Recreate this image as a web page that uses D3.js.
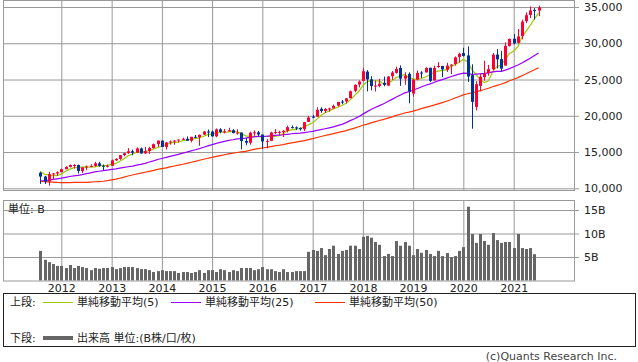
<!DOCTYPE html>
<html>
<head>
<meta charset="utf-8">
<script src="https://cdn.jsdelivr.net/npm/d3@7"></script>
<style>
  body { margin: 0; background: #fff; }
  svg { display: block; font-family: "DejaVu Sans", "Noto Sans CJK JP", sans-serif; }
</style>
</head>
<body>
<div id="chart"></div>
<script>
// monthly bars, Aug 2011 .. Jul 2021
const months = d3.timeMonth.range(new Date(2011, 7, 1), new Date(2021, 7, 1));

const open = [
  12143, 11613, 10912, 11955, 12046,
  12221, 12632, 12952, 13213, 13214, 12392, 12879, 13009, 13092, 13437, 13100, 13026,
  13104, 13861, 14054, 14580, 14840, 15116, 14910, 15500, 14810, 15130, 15546, 16086,
  16572, 15699, 16321, 16458, 16581, 16716, 16827, 16563, 17099, 17043, 17391, 17828,
  17823, 17169, 18134, 17776, 17841, 18011, 17638, 17690, 16528, 16278, 17664, 17720,
  17405, 16452, 16545, 17661, 17783, 17754, 17924, 18434, 18401, 18308, 18158, 19149,
  19873, 19872, 20957, 20665, 20962, 21030, 21392, 21961, 21982, 22423, 23442, 24305,
  24809, 26084, 25025, 24076, 24117, 24542, 24161, 25461, 25916, 26598, 25124, 25779,
  23058, 24999, 25961, 25980, 26618, 24871, 26788, 26865, 26355, 26929, 27150, 28109,
  28639, 28320, 25591, 21227, 24120, 25342, 25879, 26419, 28439, 27817, 26925, 29638,
  30627, 30055, 30985, 33054, 33904, 34584, 34507
];
const high = [
  12284, 11717, 12284, 12108, 12330,
  12721, 13055, 13289, 13338, 13280, 12898, 13146, 13331, 13653, 13662, 13290, 13270,
  13969, 14150, 14586, 14888, 15542, 15340, 15658, 15628, 15710, 15710, 16174, 16588,
  16588, 16398, 16589, 16631, 16736, 16978, 17152, 17099, 17350, 17395, 17895, 18103,
  17951, 18244, 18288, 18175, 18351, 18168, 18137, 17700, 16933, 17799, 17977, 17900,
  17405, 16795, 17790, 18168, 17934, 18017, 18623, 18668, 18534, 18399, 19153, 19987,
  20126, 21169, 21170, 21070, 21112, 21535, 21929, 22179, 22420, 23485, 24327, 24876,
  26617, 26306, 25450, 24858, 25087, 25403, 25462, 26167, 26769, 26951, 25991, 25981,
  25063, 26241, 26156, 26696, 26620, 26908, 27399, 26890, 27307, 27124, 28175, 28702,
  29374, 29568, 27102, 24764, 25759, 27581, 27020, 28655, 29199, 28955, 30116, 30637,
  31272, 31962, 33259, 34257, 35091, 34849, 35172
];
const low = [
  10604, 10597, 10362, 11231, 11735,
  12221, 12630, 12861, 12710, 12035, 12101, 12492, 12950, 12978, 12973, 12471, 12883,
  13104, 13784, 13937, 14399, 14747, 14551, 14900, 14760, 14760, 14720, 15497, 15703,
  15699, 15340, 16015, 16015, 16334, 16674, 16563, 16334, 16943, 15855, 17349, 17067,
  17136, 17038, 17579, 17574, 17841, 17576, 17399, 15370, 15942, 16013, 17250, 17128,
  15451, 15503, 16545, 17484, 17331, 17063, 17713, 18247, 18029, 17959, 17884, 19149,
  19677, 19832, 20412, 20380, 20554, 21017, 21279, 21600, 21709, 22416, 23242, 23921,
  24742, 23360, 23509, 23345, 23938, 24077, 24085, 24965, 25806, 24122, 24269, 21713,
  22639, 24884, 25209, 25975, 24680, 24871, 26586, 25339, 26046, 25743, 26922, 27325,
  28170, 24681, 18214, 20735, 23361, 24844, 25523, 26286, 26537, 26144, 26925, 29538,
  29857, 29953, 30547, 32783, 33474, 33271, 33742
];
const close = [
  11614, 10913, 11955, 12046, 12218,
  12633, 12952, 13212, 13214, 12393, 12880, 13009, 13091, 13437, 13096, 13026, 13104,
  13861, 14054, 14579, 14840, 15116, 14910, 15500, 14810, 15130, 15546, 16086, 16577,
  15699, 16322, 16458, 16581, 16717, 16827, 16563, 17098, 17043, 17391, 17828, 17823,
  17165, 18133, 17776, 17841, 18011, 17620, 17690, 16528, 16285, 17664, 17720, 17425,
  16466, 16517, 17685, 17774, 17787, 17930, 18432, 18401, 18308, 18142, 19124, 19763,
  19864, 20812, 20663, 20941, 21009, 21350, 21891, 21948, 22405, 23377, 24272, 24719,
  26149, 25029, 24103, 24163, 24416, 24271, 25415, 25965, 26458, 25116, 25539, 23327,
  24999, 25916, 25929, 26593, 24815, 26600, 26864, 26403, 26917, 27046, 28051, 28538,
  28256, 25409, 21917, 24346, 25383, 25813, 26428, 28430, 27782, 26502, 29639, 30606,
  29983, 30932, 32982, 33875, 34529, 34503, 34935
];
// closes before the first bar (Jul 2007 .. Jul 2011), only used for the averages
const priorCloses = [
  13212, 13358, 13896, 13930, 13372, 13265,
  12650, 12266, 12263, 12820, 12638, 11350, 11378, 11544, 10851, 9325, 8829, 8776,
  8001, 7063, 7609, 8168, 8500, 8447, 9172, 9496, 9712, 9713, 10344, 10428,
  10067, 10325, 10857, 11009, 10137, 9774, 10466, 10015, 10788, 11118, 11006, 11578,
  11892, 12226, 12320, 12811, 12570, 12414, 12143
];
// volume, billions
const volume = [
  6.3, 4.4, 3.9, 3.5, 3.1,
  3.1, 2.65, 3.3, 2.65, 3.1, 2.86, 2.65, 2.2, 2.65, 2.5, 2.65, 2.65,
  2.86, 2.43, 2.65, 2.86, 2.86, 2.86, 2.65, 2.43, 2.43, 2.2, 1.8, 2.0,
  2.2, 2.0, 2.0, 2.0, 1.6, 1.8, 1.8, 1.6, 1.8, 2.2, 1.6, 2.2,
  2.2, 1.8, 2.4, 2.2, 1.8, 2.2, 2.0, 2.65, 2.65, 2.65, 2.2, 2.4,
  2.86, 2.4, 2.4, 2.0, 1.8, 2.4, 1.8, 1.8, 2.0, 2.0, 2.0, 6.1,
  6.5, 6.3, 6.9, 5.4, 6.7, 7.4, 5.65, 6.3, 6.5, 7.4, 7.4, 6.7,
  9.3, 9.5, 9.1, 8.2, 7.6, 5.2, 5.65, 5.2, 8.4, 7.4, 8.2, 7.4,
  5.4, 6.7, 5.9, 6.5, 5.65, 5.2, 6.3, 5.2, 5.86, 5.0, 5.2, 6.3,
  7.1, 15.7, 9.9, 8.0, 9.9, 8.4, 7.6, 10.1, 8.6, 8.0, 8.2, 8.2,
  6.9, 9.9, 6.9, 6.7, 6.9, 5.6
];

const priceTicks = [10000, 15000, 20000, 25000, 30000, 35000];
const volTicks = [5, 10, 15];
const yearTicks = [2012, 2013, 2014, 2015, 2016, 2017, 2018, 2019, 2020, 2021];
const maPeriods = [5, 25, 50];
const maColors = ["#99cc00", "#9900ff", "#ff3300"];

const W = 638, H = 362;
const left = 3, right = 574;
const mainTop = 0, mainBottom = 190;
const volTop = 200.5, volBottom = 281;
const gridColor = "#999";

const svg = d3.select("#chart").append("svg")
    .attr("width", W).attr("height", H);

const x = d3.scaleTime()
    .domain([new Date(2012, 0, 1), new Date(2021, 0, 1)])
    .range([61.3, 513.7]);
const y = d3.scaleLinear().domain([10000, 35000]).range([188.3, 7]);
const yv = d3.scaleLinear().domain([0, 15]).range([280.5, 210]);
const yearDates = yearTicks.map(yr => new Date(yr, 0, 1));

// --- main panel grid
svg.append("g")
    .attr("transform", `translate(${right},0)`)
    .call(d3.axisLeft(y).tickValues(priceTicks).tickSize(right - left).tickFormat(""))
    .call(g => g.select(".domain").remove())
    .call(g => g.selectAll("line").attr("stroke", gridColor));

svg.append("g")
    .attr("transform", `translate(${right},0)`)
    .call(d3.axisRight(y).tickValues(priceTicks).tickSize(5).tickPadding(5)
        .tickFormat(d3.format(",")))
    .call(g => g.select(".domain").remove())
    .call(g => g.selectAll("line").attr("stroke", gridColor))
    .call(g => g.selectAll("text").attr("font-size", 11).attr("fill", "#222")
        .attr("font-family", "DejaVu Sans"));

svg.append("g")
    .attr("transform", `translate(0,${mainBottom})`)
    .call(d3.axisTop(x).tickValues(yearDates).tickSize(mainBottom - mainTop).tickFormat(""))
    .call(g => g.select(".domain").remove())
    .call(g => g.selectAll("line").attr("stroke", gridColor));

svg.append("rect")
    .attr("x", left + 0.5).attr("y", mainTop + 0.5)
    .attr("width", right - left).attr("height", mainBottom - mainTop)
    .attr("fill", "none").attr("stroke", gridColor);

// --- moving averages
const allCloses = priorCloses.concat(close);
const offset = priorCloses.length;
maPeriods.forEach((n, k) => {
    const vals = close.map((_, i) => d3.mean(allCloses.slice(offset + i - n + 1, offset + i + 1)));
    svg.append("path")
        .datum(vals)
        .attr("fill", "none")
        .attr("stroke", maColors[k])
        .attr("stroke-width", 1.2)
        .attr("d", d3.line().x((_, i) => x(months[i])).y(d => y(d)));
});

// --- candles
const candles = svg.append("g").selectAll("g")
    .data(months.map((m, i) => ({ m, o: open[i], h: high[i], l: low[i], c: close[i] })))
    .join("g");

candles.append("line")
    .attr("x1", d => Math.round(x(d.m)) + 0.5).attr("x2", d => Math.round(x(d.m)) + 0.5)
    .attr("y1", d => y(d.h)).attr("y2", d => y(d.l))
    .attr("stroke", d => d.c >= d.o ? "#ff0033" : "#003399");

candles.append("rect")
    .attr("x", d => Math.round(x(d.m)) - 1)
    .attr("width", 3)
    .attr("y", d => y(Math.max(d.o, d.c)))
    .attr("height", d => Math.max(1, Math.abs(y(d.o) - y(d.c))))
    .attr("fill", d => d.c >= d.o ? "#ff0033" : "#003399");

// --- volume panel
svg.append("g")
    .attr("transform", `translate(${right},0)`)
    .call(d3.axisLeft(yv).tickValues(volTicks).tickSize(right - left).tickFormat(""))
    .call(g => g.select(".domain").remove())
    .call(g => g.selectAll("line").attr("stroke", gridColor));

svg.append("g")
    .attr("transform", `translate(${right},0)`)
    .call(d3.axisRight(yv).tickValues(volTicks).tickSize(5).tickPadding(5)
        .tickFormat(d => d + "B"))
    .call(g => g.select(".domain").remove())
    .call(g => g.selectAll("line").attr("stroke", gridColor))
    .call(g => g.selectAll("text").attr("font-size", 11).attr("fill", "#222")
        .attr("font-family", "DejaVu Sans"));

svg.append("g")
    .attr("transform", `translate(0,${volBottom})`)
    .call(d3.axisTop(x).tickValues(yearDates).tickSize(volBottom - volTop).tickFormat(""))
    .call(g => g.select(".domain").remove())
    .call(g => g.selectAll("line").attr("stroke", gridColor));

svg.append("g")
    .selectAll("rect")
    .data(volume)
    .join("rect")
    .attr("x", (d, i) => Math.round(x(months[i])) - 1)
    .attr("width", 3)
    .attr("y", d => yv(d))
    .attr("height", d => yv(0) - yv(d))
    .attr("fill", "#666");

svg.append("rect")
    .attr("x", left + 0.5).attr("y", volTop)
    .attr("width", right - left).attr("height", volBottom - volTop)
    .attr("fill", "none").attr("stroke", gridColor);

svg.append("text")
    .attr("x", 8).attr("y", 213)
    .attr("font-size", 11).attr("fill", "#222")
    .text("単位: B");

// year labels
svg.append("g")
    .attr("transform", `translate(0,${volBottom})`)
    .call(d3.axisBottom(x).tickValues(yearDates).tickSize(0).tickPadding(3)
        .tickFormat(d3.timeFormat("%Y")))
    .call(g => g.select(".domain").remove())
    .call(g => g.selectAll("text").attr("font-size", 11).attr("fill", "#222")
        .attr("font-family", "DejaVu Sans"));

// --- legend
const legend = svg.append("g");
legend.append("rect")
    .attr("x", 3.5).attr("y", 293.5).attr("width", 632).attr("height", 53)
    .attr("fill", "none").attr("stroke", "#222");

legend.append("text").attr("x", 10).attr("y", 306).attr("font-size", 11).attr("fill", "#222").text("上段:");
const maLabels = ["単純移動平均(5)", "単純移動平均(25)", "単純移動平均(50)"];
const maLegendX = [43, 171, 315];
maLabels.forEach((t, k) => {
    legend.append("line")
        .attr("x1", maLegendX[k]).attr("x2", maLegendX[k] + 30)
        .attr("y1", 302.5).attr("y2", 302.5)
        .attr("stroke", maColors[k]).attr("stroke-width", 1);
    legend.append("text")
        .attr("x", maLegendX[k] + 34).attr("y", 306)
        .attr("font-size", 11).attr("fill", "#222").text(t);
});

legend.append("text").attr("x", 10).attr("y", 342).attr("font-size", 11).attr("fill", "#222").text("下段:");
legend.append("line")
    .attr("x1", 43).attr("x2", 73).attr("y1", 338).attr("y2", 338)
    .attr("stroke", "#666").attr("stroke-width", 4);
legend.append("text").attr("x", 77).attr("y", 342)
    .attr("font-size", 11).attr("fill", "#222").text("出来高 単位:(B株/口/枚)");

svg.append("text")
    .attr("x", 617).attr("y", 360)
    .attr("text-anchor", "end")
    .attr("font-size", 11).attr("fill", "#444")
    .text("(c)Quants Research Inc.");
</script>
</body>
</html>
